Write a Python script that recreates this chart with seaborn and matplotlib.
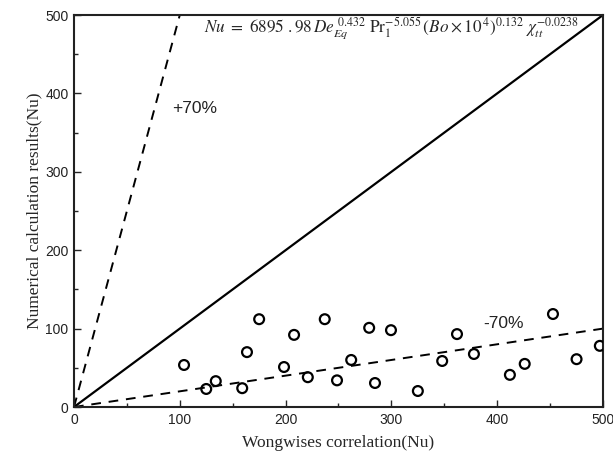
import matplotlib
matplotlib.use("Agg")
import matplotlib.pyplot as plt
import seaborn as sns
import pandas as pd
from matplotlib.ticker import MultipleLocator

# Data
wongwises = [104, 125, 134, 159, 163.5, 175, 198.5, 208, 221, 237, 248.6, 262,
             279, 284.5, 299.6, 325, 348, 362, 378, 412, 426, 452.7, 475, 497]
numerical = [53.6, 23, 33, 24, 70, 112, 51, 92, 38, 112, 34, 60,
             101, 30.6, 98, 20.4, 58.7, 93, 67.6, 41, 55, 118.6, 61, 78]

diag_x = [0, 500]
diag_y = [0, 500]
plus_x = [0, 100]
plus_y = [0, 500]
minus_x = [0, 500]
minus_y = [0, 100]

sns.set_style("ticks")
plt.rcParams["mathtext.fontset"] = "stix"

fig = plt.figure(figsize=(6.13, 4.66), dpi=100)
ax = fig.add_axes([0.1207, 0.1266, 0.863, 0.8412])

sns.lineplot(x=diag_x, y=diag_y, ax=ax, color="black", lw=1.6)
sns.lineplot(x=plus_x, y=plus_y, ax=ax, color="black", lw=1.4, linestyle=(0, (5, 4)))
sns.lineplot(x=minus_x, y=minus_y, ax=ax, color="black", lw=1.4, linestyle=(0, (5, 4)))

df = pd.DataFrame({"x": wongwises, "y": numerical})
sns.scatterplot(data=df, x="x", y="y", ax=ax, marker="o", s=50,
                facecolor="none", edgecolor="black", linewidth=1.6, zorder=5)

ax.set_xlim(0, 500)
ax.set_ylim(0, 500)
ax.xaxis.set_major_locator(MultipleLocator(100))
ax.yaxis.set_major_locator(MultipleLocator(100))
ax.xaxis.set_minor_locator(MultipleLocator(50))
ax.yaxis.set_minor_locator(MultipleLocator(50))
ax.tick_params(which="major", direction="in", length=5, width=1, labelsize=10,
               top=False, right=False, pad=4, labelcolor="#222222")
ax.tick_params(which="minor", direction="in", length=3, width=1, top=False, right=False)
for lab in ax.get_xticklabels() + ax.get_yticklabels():
    lab.set_family("Liberation Sans")
for sp in ax.spines.values():
    sp.set_visible(True)
    sp.set_linewidth(1.5)
    sp.set_color("#222222")

ax.set_xlabel("Wongwises correlation(Nu)", family="Liberation Serif", fontsize=12.5, labelpad=6)
ax.set_ylabel("Numerical calculation results(Nu)", family="Liberation Serif", fontsize=12.5, labelpad=2)

ax.text(93, 381, "+70%", family="Liberation Sans", fontsize=12.5, va="center", ha="left",
        color="#222222")
ax.text(387, 107, "-70%", family="Liberation Sans", fontsize=12.5, va="center", ha="left",
        color="#222222")

formula = (r"$Nu\ =\ 6895\ .98\,De_{Eq}^{\ 0.432}\ \mathrm{Pr}_1^{-5.055}\,(Bo\times 10^{\,4})^{0.132}\ \chi_{tt}^{-0.0238}$")
ax.text(300, 483, formula, fontsize=12.3, ha="center", va="center")

fig.savefig("out.png", dpi=100)
